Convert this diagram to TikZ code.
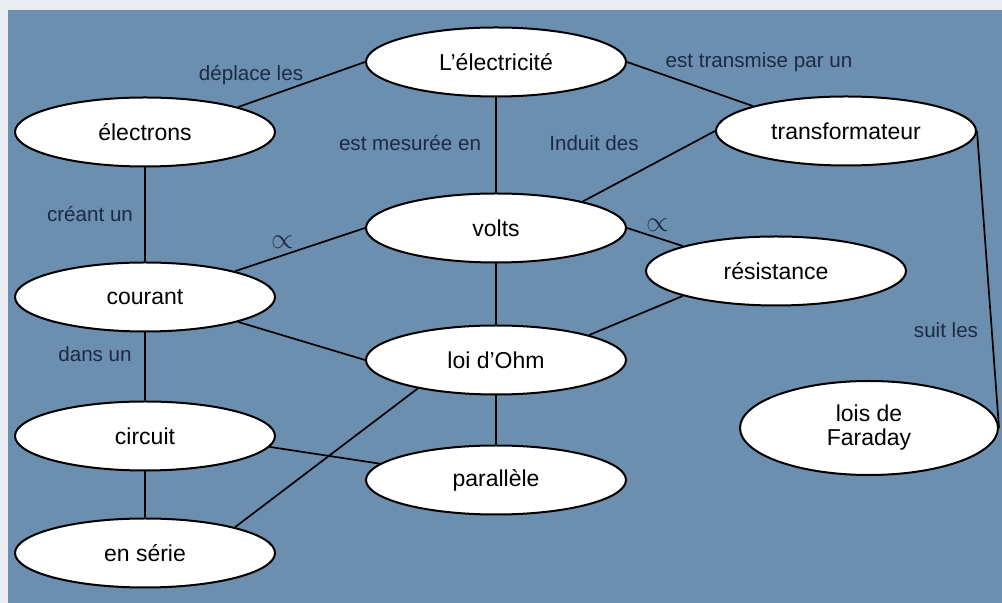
\documentclass[tikz,border=0pt]{standalone}
\usepackage{fontspec}
\setmainfont{Liberation Sans}
\usetikzlibrary{shapes.geometric}
\definecolor{board}{HTML}{6C8EAF}
\definecolor{frame}{HTML}{E9EDF1}
\definecolor{ink}{HTML}{1B2B45}

\begin{document}
\begin{tikzpicture}[x=0.5pt,y=-0.5pt,
    bubble/.style={draw,ellipse,line width=1pt,fill=white,inner sep=0pt,
      minimum width=130pt,minimum height=34.5pt,align=center,
      font=\fontsize{11.5}{12}\selectfont},
    link/.style={line width=0.85pt},
    tag/.style={text=ink,font=\fontsize{10.3}{12}\selectfont}]
        \useasboundingbox (0,0) rectangle (1002,603);
        \fill[frame] (0,0) rectangle (1002,603);
        \fill[board] (8,10) rectangle (1002,603);

        \path
        (496,62) node[bubble] (Elec) {L’électricité}
        (145,132) node[bubble] (Ele) {électrons}
        (846,131) node[bubble] (Tr) {transformateur}
        (496,228) node[bubble] (V) {volts}
        (776,271) node[bubble] (R) {résistance}
        (145,297) node[bubble] (I) {courant}
        (496,360) node[bubble] (Ohm) {loi d’Ohm}
        (145,436) node[bubble] (C) {circuit}
        (869,428) node[bubble,minimum width=129pt,minimum height=47pt] (F) {lois de\\Faraday}
        (496,480) node[bubble] (P) {parallèle}
        (145,553) node[bubble] (S) {en série}
        ;

        \draw[link] (Ele.15) -- (Elec.west);
        \draw[link] (Elec.south) -- (V.north);
        \draw[link] (Elec.east) -- (Tr.165);
        \draw[link] (V.17) -- (Tr.west);
        \draw[link] (Tr.east) -- (F.east);
        \draw[link] (V.west) -- (I.16);
        \draw[link] (V.east) -- (R.165);
        \draw[link] (V.south) -- (Ohm.north);
        \draw[link] (Ohm.15) -- (R.195);
        \draw[link] (I.345) -- (Ohm.west);
        \draw[link] (Ohm.200) -- (S.16);
        \draw[link] (Ohm.south) -- (P.north);
        \draw[link] (C.355) -- (P.172);
        \draw[link] (Ele.south) -- (I.north);
        \draw[link] (I.south) -- (C.north);
        \draw[link] (C.south) -- (S.north);

        \path
        (251,75) node[tag] (tDepl) {déplace les}
        (759,62) node[tag] (tTrans) {est transmise par un}
        (410,143) node[tag] (tMes) {est mesurée en}
        (594,143) node[tag] (tInd) {Induit des}
        (90,214) node[tag] (tCree) {créant un}
        (95,354) node[tag] (tDans) {dans un}
        (946,330) node[tag] (tSuit) {suit les}
        (283,242) node[tag,font=\Large] (pV) {$\propto$}
        (658,225) node[tag,font=\Large] (pR) {$\propto$}
        ;
\end{tikzpicture}
\end{document}
